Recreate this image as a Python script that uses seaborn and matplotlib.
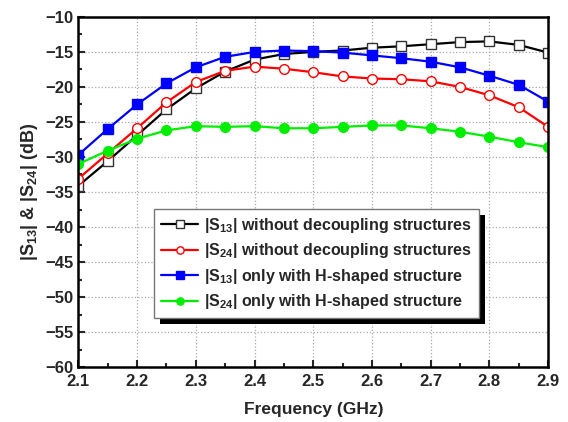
import numpy as np
import pandas as pd
import matplotlib
matplotlib.use("Agg")
import matplotlib.pyplot as plt
import seaborn as sns
from matplotlib.ticker import MultipleLocator
from matplotlib.patches import Rectangle

# values
freq = [2.10, 2.15, 2.20, 2.25, 2.30, 2.35, 2.40, 2.45, 2.50,
        2.55, 2.60, 2.65, 2.70, 2.75, 2.80, 2.85, 2.90]
s13_without = [-34.1, -30.6, -26.9, -23.2, -20.2, -17.8, -16.1, -15.3, -15.0,
               -14.8, -14.4, -14.2, -13.9, -13.6, -13.5, -14.0, -15.1]
s24_without = [-33.1, -29.5, -25.9, -22.2, -19.3, -17.7, -17.1, -17.4, -17.9,
               -18.5, -18.8, -18.9, -19.2, -20.0, -21.2, -22.9, -25.7]
s13_h = [-29.7, -26.0, -22.5, -19.5, -17.2, -15.7, -15.0, -14.8, -14.9,
         -15.1, -15.5, -15.9, -16.4, -17.2, -18.4, -19.7, -22.1]
s24_h = [-31.0, -29.1, -27.4, -26.2, -25.6, -25.7, -25.6, -25.9, -25.9,
         -25.7, -25.5, -25.5, -25.9, -26.4, -27.1, -27.9, -28.6]

labels = [r"|S$_\mathbf{13}$| without decoupling structures",
          r"|S$_\mathbf{24}$| without decoupling structures",
          r"|S$_\mathbf{13}$| only with H-shaped structure",
          r"|S$_\mathbf{24}$| only with H-shaped structure"]
colors = ["black", "#ff0000", "#0000ff", "#00ee00"]
markers = ["s", "o", "s", "o"]
filled = [False, False, True, True]

sns.set_style("ticks")
plt.rcParams["font.family"] = ["Liberation Sans", "DejaVu Sans"]
plt.rcParams["font.weight"] = "bold"
plt.rcParams["mathtext.fontset"] = "custom"
plt.rcParams["mathtext.rm"] = "Liberation Sans:bold"
plt.rcParams["mathtext.bf"] = "Liberation Sans:bold"

fig = plt.figure(figsize=(5.68, 4.22), dpi=100)
ax = fig.add_axes([0.138, 0.130, 0.827, 0.830])

series = [s13_without, s24_without, s13_h, s24_h]
for vals, lab, c, m, f in zip(series, labels, colors, markers, filled):
    df = pd.DataFrame({"freq": freq, "val": vals})
    sns.lineplot(data=df, x="freq", y="val", ax=ax, color=c, marker=m,
                 markersize=7, linewidth=1.6, label=lab,
                 markerfacecolor=c if f else "white",
                 markeredgecolor=c if m == "o" or f else "#333333",
                 markeredgewidth=1.0)

ax.set_xlim(2.1, 2.9)
ax.set_ylim(-60, -10)
ax.xaxis.set_major_locator(MultipleLocator(0.1))
ax.xaxis.set_minor_locator(MultipleLocator(0.05))
ax.yaxis.set_major_locator(MultipleLocator(5))
ax.yaxis.set_minor_locator(MultipleLocator(2.5))
ax.tick_params(which="both", direction="in", labelsize=12, width=1.5)
ax.tick_params(which="major", length=5)
ax.tick_params(which="minor", length=3)
ax.tick_params(axis="x", pad=5)
for t in ax.get_xticklabels() + ax.get_yticklabels():
    t.set_fontweight("bold")
ax.grid(True, which="major", color="#aaaaaa", linestyle=":", linewidth=0.9)
for sp in ax.spines.values():
    sp.set_linewidth(1.8)
    sp.set_color("black")

ax.set_xlabel("Frequency (GHz)", fontsize=12.5, fontweight="bold", labelpad=9)
ax.set_ylabel(r"|S$_\mathbf{13}$| & |S$_\mathbf{24}$| (dB)", fontsize=13,
              fontweight="bold", labelpad=4)

leg = ax.legend(loc="upper left", bbox_to_anchor=(0.161, 0.452), fontsize=11.5,
                frameon=True, fancybox=False, framealpha=1, edgecolor="#777777",
                handlelength=2.3, handletextpad=0.35, borderpad=0.45,
                labelspacing=0.4, borderaxespad=0, markerscale=0.75)
leg.get_frame().set_linewidth(1.0)
leg.set_zorder(6)

# hard black drop shadow behind the legend box
fig.canvas.draw()
bb = leg.get_window_extent().transformed(ax.transAxes.inverted())
dx = 6 / (ax.bbox.width)
dy = 6 / (ax.bbox.height)
ax.add_patch(Rectangle((bb.x0 + dx, bb.y0 - dy), bb.width, bb.height,
                       transform=ax.transAxes, facecolor="black",
                       edgecolor="none", zorder=5.5))

fig.savefig("out.png", dpi=100)
